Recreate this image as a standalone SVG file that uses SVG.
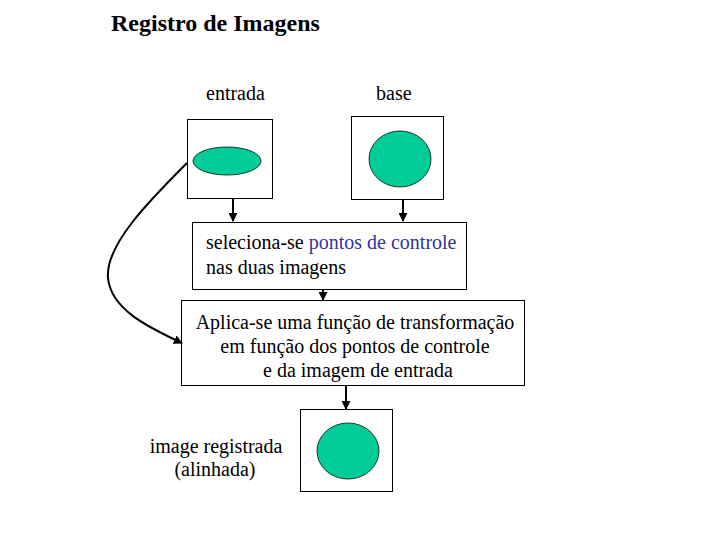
<svg xmlns="http://www.w3.org/2000/svg" width="720" height="540" viewBox="0 0 720 540">
<style>
.t{font-family:"Liberation Serif","Times New Roman",Tinos,"DejaVu Serif",serif;font-size:20px;fill:#000}
.title{font-family:"Liberation Serif","Times New Roman",Tinos,"DejaVu Serif",serif;font-size:24px;font-weight:bold;fill:#000}
.box{fill:#fff;stroke:#000;stroke-width:1}
.blob{fill:#00CC99;stroke:#1a3a2a;stroke-width:1}
.con{fill:none;stroke:#000;stroke-width:2}
.blue{fill:#333399}
</style>
<defs>
<marker id="ah" viewBox="0 0 10 10" refX="9" refY="5" markerWidth="4.5" markerHeight="4.5" orient="auto" markerUnits="strokeWidth">
<path d="M0,0 L10,5 L0,10 Z" fill="#000"/>
</marker>
</defs>
<rect width="720" height="540" fill="#fff"/>
<text class="title" x="111" y="31">Registro de Imagens</text>
<g id="entrada">
<text class="t" x="206" y="100">entrada</text>
<rect class="box" x="187.5" y="119.5" width="85" height="79"/>
<ellipse class="blob" cx="227" cy="161" rx="34" ry="14"/>
</g>
<g id="base">
<text class="t" x="376" y="100">base</text>
<rect class="box" x="351.5" y="116.5" width="92" height="83"/>
<ellipse class="blob" cx="400" cy="159" rx="31" ry="28"/>
</g>
<g id="seleciona">
<rect class="box" x="192.5" y="222.5" width="274" height="67"/>
<text class="t" x="206" y="249">seleciona-se <tspan class="blue">pontos de controle</tspan></text>
<text class="t" x="206" y="274">nas duas imagens</text>
</g>
<g id="aplica">
<rect class="box" x="181.5" y="300.5" width="343" height="85"/>
<text class="t" x="355" y="329" text-anchor="middle">Aplica-se uma função de transformação</text>
<text class="t" x="355" y="353" text-anchor="middle">em função dos pontos de controle</text>
<text class="t" x="358" y="377" text-anchor="middle">e da imagem de entrada</text>
</g>
<g id="registrada">
<rect class="box" x="300.5" y="409.5" width="92" height="82"/>
<ellipse class="blob" cx="348" cy="451" rx="31" ry="28"/>
<text class="t" x="216" y="453" text-anchor="middle">image registrada</text>
<text class="t" x="215" y="476" text-anchor="middle">(alinhada)</text>
</g>
<g id="connectors">
<line class="con" x1="233" y1="199" x2="233" y2="221" marker-end="url(#ah)"/>
<line class="con" x1="403" y1="200" x2="403" y2="221" marker-end="url(#ah)"/>
<line class="con" x1="323" y1="290" x2="323" y2="300" marker-end="url(#ah)"/>
<line class="con" x1="346" y1="386" x2="346" y2="409" marker-end="url(#ah)"/>
<path class="con" d="M187,163 C150,200 105,245 108,278 C111,310 150,328 182,343" marker-end="url(#ah)"/>
</g>
</svg>
